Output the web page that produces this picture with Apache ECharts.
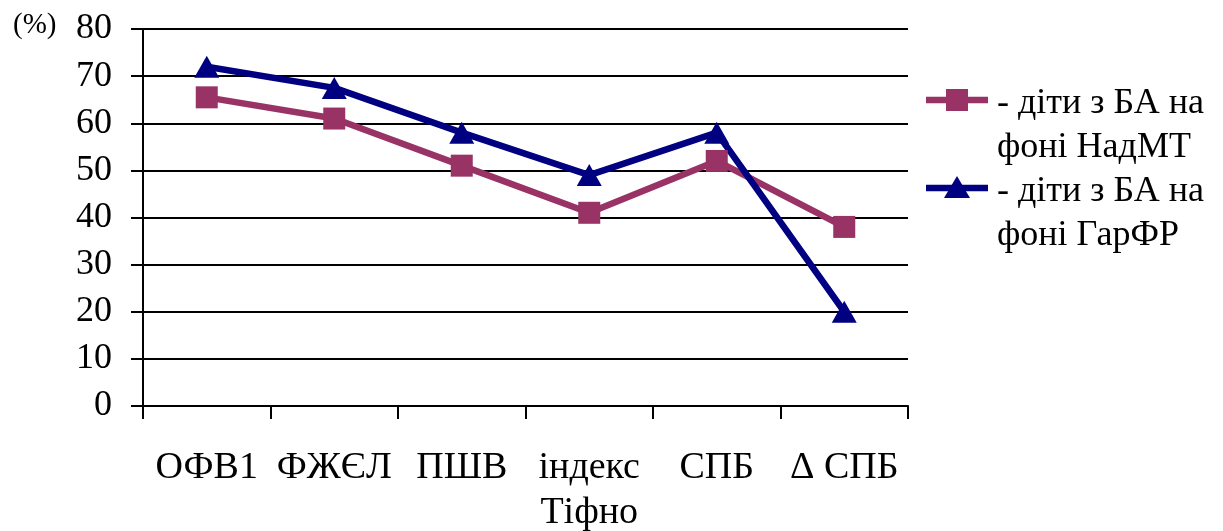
<!DOCTYPE html>
<html>
<head>
<meta charset="utf-8">
<script src="https://cdn.jsdelivr.net/npm/echarts@6/dist/echarts.min.js"></script>
<style>
  html, body { margin: 0; padding: 0; background: #fff; }
  #chart { width: 1223px; height: 531px; }
</style>
</head>
<body>
<div id="chart"></div>
<script>
// Spirometry indices (%) for two groups of children with asthma
const categories = ['ОФВ1', 'ФЖЄЛ', 'ПШВ', 'індекс\nТіфно', 'СПБ', 'Δ СПБ'];
const yTicks = { min: 0, max: 80, interval: 10 };
const seriesNames = ['- діти з БА на\nфоні НадМТ', '- діти з БА на\nфоні ГарФР'];
const seriesColors = ['#993366', '#000080'];
const valuesNadMT = [65.5, 61, 51, 41, 52, 38];
const valuesGarFR = [72, 67.5, 58, 49, 58, 20];

const FONT = '"Liberation Serif", "Times New Roman", serif';
const chart = echarts.init(document.getElementById('chart'), null, { renderer: 'canvas' });

// Legend drawn as a block on the right: line sample with marker, two-line caption
function legendItem(i, markerShape) {
  const cy = 100 + 88 * i;
  const lines = seriesNames[i].split('\n');
  const children = [
    {
      type: 'line',
      shape: { x1: 926, y1: cy, x2: 988, y2: cy },
      style: { stroke: seriesColors[i], lineWidth: 6.5 }
    },
    markerShape(cy),
    {
      type: 'text',
      x: 997, y: cy + 4,
      style: { text: lines[0], font: '36px ' + FONT, fill: '#000', verticalAlign: 'middle' }
    },
    {
      type: 'text',
      x: 997, y: cy + 48,
      style: { text: lines[1], font: '36px ' + FONT, fill: '#000', verticalAlign: 'middle' }
    }
  ];
  return { type: 'group', children };
}

chart.setOption({
  animation: false,
  backgroundColor: '#ffffff',
  title: {
    text: '(%)',
    left: 8,
    top: 6,
    textStyle: { fontFamily: FONT, fontSize: 29, fontWeight: 'normal', color: '#000' }
  },
  grid: {
    left: 143, right: 315, top: 29, bottom: 125,
    containLabel: false,
    outerBoundsMode: 'none'
  },
  graphic: [
    legendItem(0, cy => ({
      type: 'rect',
      shape: { x: 946, y: cy - 11, width: 22, height: 22 },
      style: { fill: seriesColors[0] }
    })),
    legendItem(1, cy => ({
      type: 'polygon',
      shape: { points: [[957, cy - 12], [970, cy + 10], [944, cy + 10]] },
      style: { fill: seriesColors[1] }
    }))
  ],
  xAxis: {
    type: 'category',
    data: categories,
    boundaryGap: true,
    axisLine: { show: true, lineStyle: { color: '#000', width: 2 } },
    axisTick: { show: true, length: 13, lineStyle: { color: '#000', width: 2 } },
    axisLabel: {
      fontFamily: FONT,
      fontSize: 38,
      color: '#000',
      lineHeight: 45,
      margin: 40,
      interval: 0
    },
    splitLine: { show: false }
  },
  yAxis: {
    type: 'value',
    min: yTicks.min,
    max: yTicks.max,
    interval: yTicks.interval,
    axisLine: { show: true, lineStyle: { color: '#000', width: 2 } },
    axisTick: { show: true, length: 12, lineStyle: { color: '#000', width: 2 } },
    axisLabel: { fontFamily: FONT, fontSize: 36, color: '#000', margin: 31 },
    splitLine: { show: true, lineStyle: { color: '#000', width: 2 } }
  },
  series: [
    {
      name: seriesNames[0],
      type: 'line',
      data: valuesNadMT,
      symbol: 'rect',
      symbolSize: 22,
      color: seriesColors[0],
      lineStyle: { width: 6.5, color: seriesColors[0] },
      itemStyle: { color: seriesColors[0] }
    },
    {
      name: seriesNames[1],
      type: 'line',
      data: valuesGarFR,
      symbol: 'triangle',
      symbolSize: [25, 22],
      color: seriesColors[1],
      lineStyle: { width: 6.5, color: seriesColors[1] },
      itemStyle: { color: seriesColors[1] }
    }
  ]
});
</script>
</body>
</html>
